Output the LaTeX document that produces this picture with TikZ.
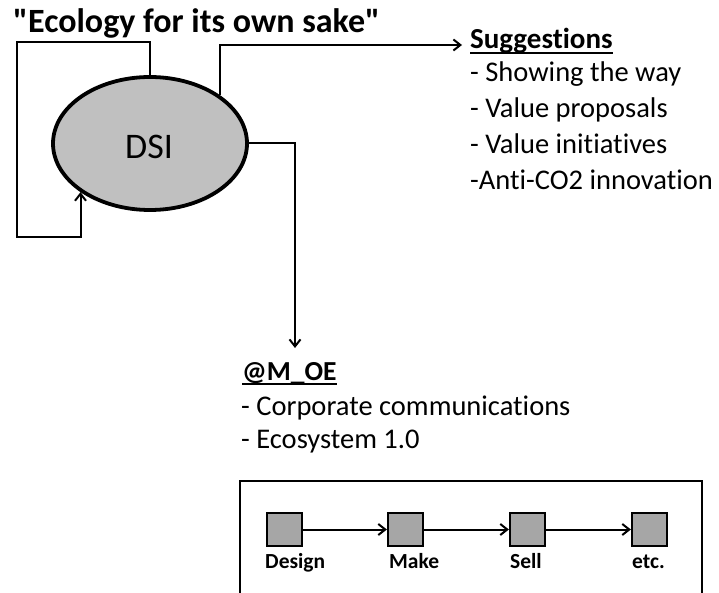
\documentclass[tikz,border=0pt]{standalone}
\usepackage{fontspec}
\setmainfont{Carlito}[Ligatures=NoCommon]
% same face without the TeX input mapping, so that " stays a straight quote
\newfontfamily\rawfont{Carlito}[Ligatures=NoCommon]
\usetikzlibrary{arrows.meta,shapes.geometric}
\definecolor{ovalgray}{HTML}{C0C0C0}
\definecolor{stepgray}{HTML}{A6A6A6}
\begin{document}
\begin{tikzpicture}[x=1pt,y=-1pt,
  conn/.style={line width=2pt},
  tip/.style={-{Straight Barb[length=7pt,width=11pt]}},
  txt/.style={inner sep=0pt,anchor=base west},
  item/.style={txt,font=\fontsize{28.5}{32}\selectfont},
  head/.style={txt,font=\bfseries\fontsize{29}{33}\selectfont},
  ulin/.style={line width=1.8pt},
  stepbox/.style={draw,line width=2.2pt,fill=stepgray,minimum width=35pt,minimum height=33pt,inner sep=0pt},
  steplabel/.style={txt,font=\bfseries\fontsize{21.5}{25}\selectfont}
]
\fill[white] (0,0) rectangle (719,593);
\useasboundingbox (0,0) rectangle (719,593);

% title
\node[txt,font=\rawfont\bfseries\fontsize{34}{40}\selectfont] (title) at (13,33) {"Ecology for its own sake"};

% central oval
\node[ellipse,draw,line width=3.8pt,fill=ovalgray,minimum width=194pt,minimum height=133pt,inner sep=0pt]
  (dsi) at (150,143.5) {};
\node[font=\fontsize{36}{40}\selectfont,inner sep=0pt] (dsilabel) at (149,147) {DSI};

% self loop
\coordinate (lt) at (17,42);
\coordinate (lb) at (17,237);
\draw[conn,tip] (dsi.north) |- (lt) -- (lb) -| (dsi.215);

% suggestions branch
\coordinate (sugtip) at (462,45);
\draw[conn,tip] (dsi.35) |- (sugtip);
\node[head] (sug0) at (470,49) {Suggestions};
\draw[ulin] ([yshift=-4pt]sug0.base west) -- ([yshift=-4pt]sug0.base east);
\node[item] (sug1) at (470,82) {- Showing the way};
\node[item] (sug2) at (470,118) {- Value proposals};
\node[item] (sug3) at (470,154) {- Value initiatives};
\node[item] (sug4) at (470,190) {-Anti-CO2 innovation};

% @M_OE branch
\coordinate (moetip) at (295,348);
\draw[conn,tip] (dsi.east) -| (moetip);
\node[txt,font=\bfseries\fontsize{27.5}{32}\selectfont] (moe0) at (242,380) {@M\_OE};
\draw[ulin] ([yshift=-4pt]moe0.base west) -- ([yshift=-4pt]moe0.base east);
\node[item] (moe1) at (241,415) {- Corporate communications};
\node[item] (moe2) at (241,448) {- Ecosystem 1.0};

% value chain frame, open at the bottom
\coordinate (fa) at (240,593);
\coordinate (fb) at (240,481);
\coordinate (fc) at (702,481);
\coordinate (fd) at (702,593);
\draw[conn] (fa) -- (fb) -- (fc) -- (fd);

% value chain steps
\node[stepbox] (s1) at (284.5,529.5) {};
\node[stepbox] (s2) at (405.5,529.5) {};
\node[stepbox] (s3) at (527.5,529.5) {};
\node[stepbox] (s4) at (649.5,529.5) {};
\draw[conn,tip] (s1) -- (s2);
\draw[conn,tip] (s2) -- (s3);
\draw[conn,tip] (s3) -- (s4);
\node[steplabel] (l1) at (265,568) {Design};
\node[steplabel] (l2) at (389,568) {Make};
\node[steplabel] (l3) at (510,568) {Sell};
\node[steplabel] (l4) at (632,568) {etc.};
\end{tikzpicture}
\end{document}
